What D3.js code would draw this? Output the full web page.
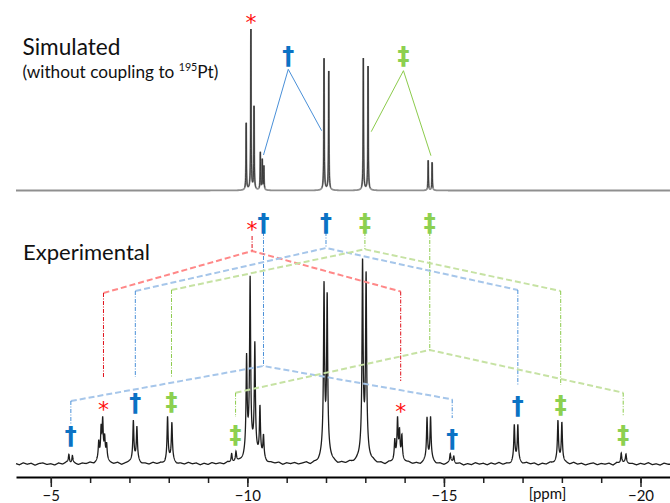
<!DOCTYPE html>
<html>
<head>
<meta charset="utf-8">
<script src="https://cdn.jsdelivr.net/npm/d3@7"></script>
<style>
  body { margin: 0; background: #fff; }
  svg { display: block; }
</style>
</head>
<body>
<div id="chart"></div>
<script>
// peaks: [ppm, intensity]
const simulatedPeaks = [
  [-9.97, 68], [-10.09, 163], [-10.17, 86],
  [-10.33, 38], [-10.38, 31], [-10.42, 24],
  [-11.95, 134], [-12.07, 121],
  [-12.95, 132], [-13.07, 124],
  [-14.60, 30], [-14.70, 29]
];

const experimentalPeaks = [
  [-5.46, 9], [-5.55, 8],
  [-6.22, 18], [-6.28, 30], [-6.32, 38], [-6.37, 20], [-6.42, 15],
  [-7.10, 42], [-7.19, 34],
  [-7.97, 46], [-8.08, 39],
  [-9.60, 10], [-9.71, 10],
  [-9.98, 98], [-10.07, 178], [-10.19, 112], [-10.32, 52], [-10.41, 23],
  [-11.95, 171], [-12.03, 160],
  [-12.93, 196], [-13.02, 181],
  [-13.75, 20], [-13.82, 40], [-13.87, 27], [-13.93, 25],
  [-14.57, 44], [-14.66, 44],
  [-15.16, 9], [-15.25, 7],
  [-16.79, 37], [-16.88, 37],
  [-17.90, 41], [-18.00, 41],
  [-19.51, 11], [-19.63, 9]
];

// baseline noise of the experimental trace, one value every 0.1 ppm from -4.1
const baselineNoise = [
  0.4,-0.6,0.8,-0.2,0.5,-0.9,0.3,0.7,-0.4,0.1,-0.8,0.6,-0.3,0.9,-0.5,0.2,-0.7,0.4,-0.1,0.8,
  -0.6,0.3,-0.9,0.5,0.0,-0.4,0.7,-0.8,0.2,0.6,-0.3,0.9,-0.6,0.1,-0.5,0.8,-0.2,0.4,-0.9,0.3,
  0.6,-0.7,0.2,-0.4,0.9,-0.1,0.5,-0.8,0.3,-0.6,0.7,-0.2,0.4,-0.5,0.8,-0.9,0.1,0.6,-0.3,0.2,
  -0.7,0.5,-0.4,0.9,-0.6,0.3,-0.1,0.7,-0.8,0.4,-0.2,0.6,-0.5,0.1,0.8,-0.9,0.3,-0.4,0.7,-0.6,
  0.2,0.5,-0.8,0.4,-0.3,0.9,-0.1,0.6,-0.7,0.2,-0.5,0.8,-0.4,0.3,-0.9,0.7,-0.2,0.5,-0.6,0.1,
  0.8,-0.3,0.4,-0.7,0.6,-0.1,0.9,-0.5,0.2,-0.8,0.3,0.7,-0.4,0.5,-0.9,0.1,-0.6,0.8,-0.2,0.4,
  -0.7,0.6,-0.3,0.9,-0.5,0.2,-0.8,0.4,0.1,-0.6,0.7,-0.2,0.5,-0.9,0.3,-0.4,0.8,-0.1,0.6,-0.7,
  0.2,-0.5,0.9,-0.3,0.4,-0.8,0.1,0.7,-0.6,0.3,-0.2,0.5,-0.9,0.8,-0.4,0.6,-0.1,0.2,-0.7,0.4,
  -0.3,0.9,-0.5,0.1,-0.8,0.6,-0.2
];

const majorTicks = [-5, -10, -15, -20];
const minorTicks = d3.range(-5, -21, -1);
const axisUnit = "[ppm]";

// simulated trace: label above the tallest peak, and two "V" markers
const simStar = { sym: "*", ppm: -10.09 };
const simMarks = [
  { sym: "†", apex: -11.04, left: -10.41, right: -11.89 },
  { sym: "‡", apex: -13.97, left: -13.15, right: -14.67 }
];

// experimental trace: coupling brackets (symbol, apex, both satellites)
const brackets = [
  { sym: "*", apex: -10.12, left: -6.34, right: -13.90 },
  { sym: "†", apex: -10.41, left: -5.51, right: -15.21 },
  { sym: "†", apex: -12.00, left: -7.15, right: -16.88 },
  { sym: "‡", apex: -12.99, left: -8.07, right: -17.97 },
  { sym: "‡", apex: -14.64, left: -9.70, right: -19.56 }
];

// ---- layout ----
const width = 670, height = 503;
const simBase = 190.5, expBase = 464;

const symStyle = {
  "*": { color: "#ff1010", dark: "#e0101a", light: "#ff8888", size: 22 },
  "†": { color: "#0b72c4", dark: "#4a90d8", light: "#a6c6ea", size: 24 },
  "‡": { color: "#8cd050", dark: "#8ccb4c", light: "#c6e2a3", size: 24 }
};

// y (px) of the bracket pieces: label, stem start, apex, corners, drop ends, satellite labels
const bracketRows = [
  { label: 229, stem: 236, apex: 251, cl: 293, cr: 291.5, dl: 378, dr: 381, ll: 409, lr: 411.5 },
  { label: 222.5, stem: 232, apex: 366, cl: 401, cr: 399.3, dl: 425, dr: 418, ll: 435.5, lr: 439 },
  { label: 222.5, stem: 232, apex: 248, cl: 291, cr: 290, dl: 377, dr: 385, ll: 403.3, lr: 406.3 },
  { label: 222.5, stem: 232, apex: 249.3, cl: 290, cr: 291, dl: 378, dr: 385, ll: 402, lr: 405.2 },
  { label: 222.5, stem: 232, apex: 350, cl: 392.7, cr: 392.7, dl: 417, dr: 416, ll: 435, lr: 435 }
];
const simRows = [
  { label: 55.5, apex: 69.3, l: 155, r: 130.7 },
  { label: 56.3, apex: 70.7, l: 131.7, r: 155.7 }
];

const x = d3.scaleLinear().domain([-5, -20]).range([50.8, 640.5]);
x.domain([x.invert(16), x.invert(670)]).range([16, 670]);

const ySim = d3.scaleLinear().domain([0, 165]).range([simBase, simBase - 165]);
const yExp = d3.scaleLinear().domain([0, 200]).range([expBase, expBase - 200]);

const svg = d3.select("#chart").append("svg")
  .attr("width", width)
  .attr("height", height);

// line shape: narrow lorentzian plus a small broad foot
function lineShape(peaks, w, foot, p) {
  let s = 0;
  for (const [c, h] of peaks) {
    const d = (p - c) / w;
    const e = (p - c) / (w * 4);
    s += h * (1 - foot) / (1 + d * d) + h * foot / (1 + e * e);
  }
  return s;
}

function noiseAt(p) {
  const f = (-4.1 - p) / 0.1;
  const i = Math.max(0, Math.min(baselineNoise.length - 2, Math.floor(f)));
  const t = Math.min(1, Math.max(0, f - i));
  return baselineNoise[i] * (1 - t) + baselineNoise[i + 1] * t;
}

const ppmGrid = d3.range(x.domain()[0], x.domain()[1], -0.003);

const simLine = d3.line()
  .x((d) => x(d))
  .y((d) => ySim(lineShape(simulatedPeaks, 0.006, 0.05, d)));

const expLine = d3.line()
  .x((d) => x(d))
  .y((d) => yExp(lineShape(experimentalPeaks, 0.015, 0.12, d) + 1.4 * noiseAt(d)));

svg.append("clipPath")
  .attr("id", "peaksOnly")
  .append("rect")
  .attr("x", 0).attr("y", 0)
  .attr("width", width).attr("height", simBase - 3);

svg.append("path")
  .datum(ppmGrid)
  .attr("d", simLine)
  .attr("fill", "none")
  .attr("stroke", "#8f8f8f")
  .attr("stroke-width", 1.8);

svg.append("path")
  .datum(ppmGrid)
  .attr("d", simLine)
  .attr("clip-path", "url(#peaksOnly)")
  .attr("fill", "none")
  .attr("stroke", "#333")
  .attr("stroke-width", 0.9);

svg.append("path")
  .datum(ppmGrid)
  .attr("d", expLine)
  .attr("fill", "none")
  .attr("stroke", "#1e1e1e")
  .attr("stroke-width", 1.3);

// titles, scaled to the widths seen in the picture
function fitText(sel, targetWidth) {
  const w = sel.node().getComputedTextLength();
  const fs = parseFloat(sel.attr("font-size"));
  sel.attr("font-size", fs * targetWidth / w);
}

const font = "Lato, 'Open Sans', sans-serif";

fitText(svg.append("text")
  .attr("x", 22.5).attr("y", 54.5)
  .attr("font-family", font).attr("font-size", 24).attr("fill", "#111")
  .text("Simulated"), 98);

const sub = svg.append("text")
  .attr("x", 22.5).attr("y", 77.5)
  .attr("font-family", font).attr("font-size", 18).attr("fill", "#111");
sub.append("tspan").text("(without coupling to ");
sub.append("tspan").attr("font-size", "0.62em").attr("dy", -7).text("195");
sub.append("tspan").attr("dy", 7).text("Pt)");
fitText(sub, 196);

fitText(svg.append("text")
  .attr("x", 23).attr("y", 260)
  .attr("font-family", font).attr("font-size", 24).attr("fill", "#111")
  .text("Experimental"), 127);

// symbols
function symbol(s, px, py) {
  const st = symStyle[s];
  svg.append("text")
    .attr("x", px)
    .attr("y", py)
    .attr("text-anchor", "middle")
    .attr("dominant-baseline", "central")
    .attr("font-family", "'DejaVu Sans', sans-serif")
    .attr("font-weight", s === "*" ? "normal" : "bold")
    .attr("font-size", st.size)
    .attr("fill", st.color)
    .text(s);
}

// simulated annotations
symbol(simStar.sym, x(simStar.ppm), 22);
simMarks.forEach((m, i) => {
  const r = simRows[i];
  symbol(m.sym, x(m.apex), r.label);
  svg.append("polyline")
    .attr("points", [[x(m.left), r.l], [x(m.apex), r.apex], [x(m.right), r.r]].join(" "))
    .attr("fill", "none")
    .attr("stroke", symStyle[m.sym].dark)
    .attr("stroke-width", 1);
});

// experimental brackets
brackets.forEach((b, i) => {
  const r = bracketRows[i];
  const st = symStyle[b.sym];
  const g = svg.append("g");
  g.append("polyline")
    .attr("points", [[x(b.left), r.cl], [x(b.apex), r.apex], [x(b.right), r.cr]].join(" "))
    .attr("fill", "none")
    .attr("stroke", st.light)
    .attr("stroke-width", 2)
    .attr("stroke-dasharray", "6,3");
  const drops = [
    [x(b.apex), r.stem, r.apex],
    [x(b.left), r.cl, r.dl],
    [x(b.right), r.cr, r.dr]
  ];
  drops.forEach(([px, y1, y2]) => {
    g.append("line")
      .attr("x1", px).attr("x2", px)
      .attr("y1", y1).attr("y2", y2)
      .attr("stroke", st.dark)
      .attr("stroke-width", 1)
      .attr("stroke-dasharray", "4,1.5,1,1.5");
  });
  symbol(b.sym, x(b.apex), r.label);
  symbol(b.sym, x(b.left), r.ll);
  symbol(b.sym, x(b.right), r.lr);
});

// axis
const axisG = svg.append("g")
  .attr("transform", `translate(0,${477})`);

axisG.append("g")
  .call(d3.axisBottom(x).tickValues(minorTicks).tickSize(6).tickFormat("").tickSizeOuter(0))
  .call((g) => g.select(".domain").remove());

axisG.append("g")
  .call(d3.axisBottom(x).tickValues(majorTicks).tickSize(10).tickSizeOuter(0))
  .call((g) => g.select(".domain").attr("stroke-width", 2))
  .call((g) => g.selectAll("text")
    .attr("font-family", font)
    .attr("font-size", 15)
    .attr("fill", "#111"));

axisG.selectAll(".tick line").attr("stroke", "#222").attr("stroke-width", 1.5);

axisG.append("text")
  .attr("x", 547.5)
  .attr("y", 22)
  .attr("text-anchor", "middle")
  .attr("font-family", font)
  .attr("font-size", 15)
  .attr("fill", "#111")
  .text(axisUnit);
</script>
</body>
</html>
